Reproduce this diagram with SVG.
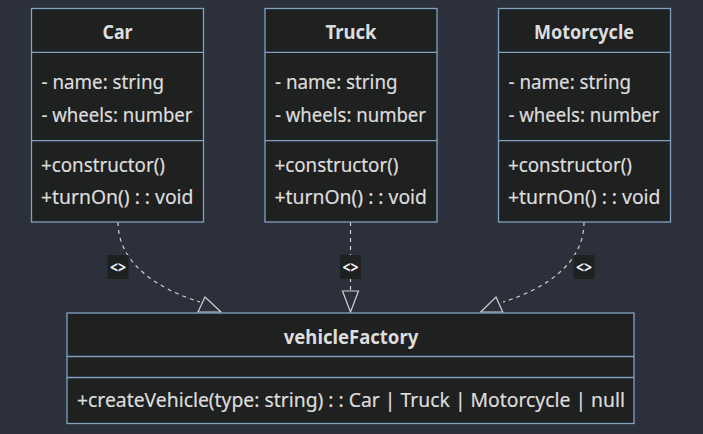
<svg xmlns="http://www.w3.org/2000/svg" width="703" height="434" viewBox="0 0 703 434">
<defs>
<style>
.bg{fill:#2b303b}
.box{fill:#1f2020;stroke:#81a1c1;stroke-width:1.3}
.div{stroke:#81a1c1;stroke-width:1.3}
.t{font-family:"Noto Sans","Open Sans",sans-serif;font-size:19.5px;fill:#dddddd;stroke:#dddddd;stroke-width:0.2}
.title{font-weight:bold;text-anchor:middle;stroke-width:0}
.edge{fill:none;stroke:#d0d0d0;stroke-width:1.2;stroke-dasharray:4,4}
.arrow{fill:#2b303b;stroke:#d0d0d0;stroke-width:1.2}
.lblbg{fill:#1f2020}
.lbl{font-family:"Noto Sans","DejaVu Sans",sans-serif;font-size:16px;font-weight:bold;fill:#eeeeee;text-anchor:middle}
</style>
</defs>
<rect class="bg" x="0" y="0" width="703" height="434"/>

<g id="connectors">
<path class="edge" d="M118,222 C118,262 155,288 200,302"/>
<path class="arrow" d="M205,297 L198,312 L221,312 Z"/>
<path class="edge" d="M350.5,222 L350.5,291"/>
<path class="arrow" d="M342.5,291 L358.5,291 L350.5,312 Z"/>
<path class="edge" d="M584,222 C584,262 548,288 503,302"/>
<path class="arrow" d="M496,297 L502.7,312 L480.7,312 Z"/>
<g id="label-car"><rect class="lblbg" x="107.5" y="255" width="21" height="24"/><text class="lbl" x="118" y="272.5" textLength="16" lengthAdjust="spacingAndGlyphs">&lt;&gt;</text></g>
<g id="label-truck"><rect class="lblbg" x="340" y="255" width="21" height="24"/><text class="lbl" x="350.5" y="272.5" textLength="16" lengthAdjust="spacingAndGlyphs">&lt;&gt;</text></g>
<g id="label-moto"><rect class="lblbg" x="573.5" y="255" width="21" height="24"/><text class="lbl" x="584" y="272.5" textLength="16" lengthAdjust="spacingAndGlyphs">&lt;&gt;</text></g>
</g>

<g id="car">
<rect class="box" x="31.5" y="8.5" width="172" height="213.5"/>
<line class="div" x1="31.5" y1="52.3" x2="203.5" y2="52.3"/>
<line class="div" x1="31.5" y1="140.7" x2="203.5" y2="140.7"/>
<text class="t title" x="117.5" y="39" textLength="30" lengthAdjust="spacingAndGlyphs">Car</text>
<text class="t" x="41.5" y="88.5" textLength="122.5" lengthAdjust="spacingAndGlyphs">- name: string</text>
<text class="t" x="41.5" y="121.5" textLength="151" lengthAdjust="spacingAndGlyphs">- wheels: number</text>
<text class="t" x="41" y="171.5" textLength="124" lengthAdjust="spacingAndGlyphs">+constructor()</text>
<text class="t" x="41" y="204" textLength="152.5" lengthAdjust="spacingAndGlyphs">+turnOn() : : void</text>
</g>

<g id="truck">
<rect class="box" x="265" y="8.5" width="172" height="213.5"/>
<line class="div" x1="265" y1="52.3" x2="437" y2="52.3"/>
<line class="div" x1="265" y1="140.7" x2="437" y2="140.7"/>
<text class="t title" x="351" y="39" textLength="51" lengthAdjust="spacingAndGlyphs">Truck</text>
<text class="t" x="275" y="88.5" textLength="122.5" lengthAdjust="spacingAndGlyphs">- name: string</text>
<text class="t" x="275" y="121.5" textLength="151" lengthAdjust="spacingAndGlyphs">- wheels: number</text>
<text class="t" x="274.5" y="171.5" textLength="124" lengthAdjust="spacingAndGlyphs">+constructor()</text>
<text class="t" x="274.5" y="204" textLength="152.5" lengthAdjust="spacingAndGlyphs">+turnOn() : : void</text>
</g>

<g id="motorcycle">
<rect class="box" x="498.5" y="8.5" width="172" height="213.5"/>
<line class="div" x1="498.5" y1="52.3" x2="670.5" y2="52.3"/>
<line class="div" x1="498.5" y1="140.7" x2="670.5" y2="140.7"/>
<text class="t title" x="584" y="39" textLength="100" lengthAdjust="spacingAndGlyphs">Motorcycle</text>
<text class="t" x="508.5" y="88.5" textLength="122.5" lengthAdjust="spacingAndGlyphs">- name: string</text>
<text class="t" x="508.5" y="121.5" textLength="151" lengthAdjust="spacingAndGlyphs">- wheels: number</text>
<text class="t" x="508" y="171.5" textLength="124" lengthAdjust="spacingAndGlyphs">+constructor()</text>
<text class="t" x="508" y="204" textLength="152.5" lengthAdjust="spacingAndGlyphs">+turnOn() : : void</text>
</g>

<g id="vehicleFactory">
<rect class="box" x="67" y="313" width="567" height="110.5"/>
<line class="div" x1="67" y1="356.5" x2="634" y2="356.5"/>
<line class="div" x1="67" y1="377.5" x2="634" y2="377.5"/>
<text class="t title" x="351" y="343.5" textLength="134.5" lengthAdjust="spacingAndGlyphs">vehicleFactory</text>
<text class="t" x="77" y="406.5" textLength="548" lengthAdjust="spacingAndGlyphs">+createVehicle(type: string) : : Car | Truck | Motorcycle | null</text>
</g>
</svg>
